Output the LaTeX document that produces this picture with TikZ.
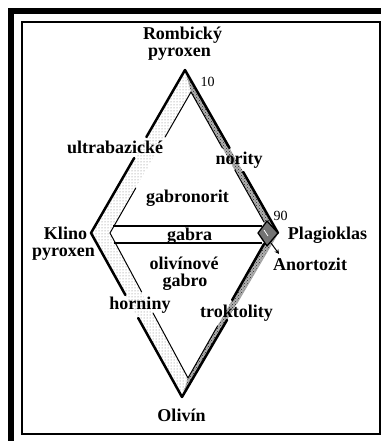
\documentclass[tikz,border=0pt]{standalone}
\usepackage{fontspec}
\setmainfont{Liberation Serif}
\usetikzlibrary{patterns,arrows.meta}
\begin{document}
\begin{tikzpicture}[x=1pt,y=-1pt,
  lbl/.style={font=\fontsize{18}{16}\selectfont\bfseries, inner sep=0pt, anchor=base},
  topline/.style={lbl, text depth=0pt},
  botline/.style={lbl, text height=8.5pt},
  num/.style={font=\fontsize{14}{14}\selectfont, inner sep=0pt, anchor=base},
  thickln/.style={line width=2.5pt, line cap=round, line join=round},
  thinln/.style={line width=1pt, line cap=round},
  grayln/.style={line width=1pt, draw=gray!70},
  lightband/.style={pattern=dots, pattern color=black!55},
  darkband/.style={fill=gray!60},
  darkdots/.style={pattern=crosshatch dots, pattern color=black!85},
  blob/.style={fill=black!55, draw=black, line width=1.3pt, line join=round},
  ptr/.style={-{Stealth[length=4.5pt,width=4.5pt]}, line width=1pt}]
\useasboundingbox (0,0) rectangle (381,441);
% frame
\fill (8,8) rectangle (381,14);
\fill (8,8) rectangle (14,441);
\draw[line width=2pt] (22,22) rectangle (380,434);
% diamond coordinates
\coordinate (A) at (185,70);
\coordinate (L) at (91,233);
\coordinate (B) at (182,397);
\coordinate (R) at (278,233);
\coordinate (Ai) at (191,92);
\coordinate (Li) at (110,233);
\coordinate (Bi) at (188,378);
\coordinate (Ru) at (264,222);
\coordinate (Rl) at (264,244);
% bands
\fill[lightband] (A) -- (L) -- (B) -- (Bi) -- (Li) -- (Ai) -- cycle;
\fill[darkband] (A) -- (R) -- (Ru) -- (Ai) -- cycle;
\fill[darkdots] (A) -- (R) -- (Ru) -- (Ai) -- cycle;
\fill[darkband] (R) -- (B) -- (Bi) -- (Rl) -- cycle;
\fill[darkdots] (R) -- (B) -- (Bi) -- (Rl) -- cycle;
% left outer edge with gaps
\coordinate (lo1) at (146.4,137);
\coordinate (lo2) at (134.2,158);
\coordinate (lo3) at (125.4,295);
\coordinate (lo4) at (138.2,318);
\draw[thickln] (A) -- (lo1);
\draw[thickln] (lo2) -- (L) -- (lo3);
\draw[thickln] (lo4) -- (B);
% left inner edge with gaps
\coordinate (li1) at (165.1,137);
\coordinate (li2) at (135.8,188);
\coordinate (li3) at (141.7,292);
\coordinate (li4) at (153,313);
\draw[thinln] (Ai) -- (li1);
\draw[thinln] (li2) -- (Li) -- (li3);
\draw[thinln] (li4) -- (Bi);
% right upper band edges
\coordinate (ro1) at (229.5,148);
\coordinate (ro2) at (243.2,172);
\coordinate (ri1) at (222.4,148);
\coordinate (ri2) at (234.8,170);
\draw[thickln] (A) -- (ro1);
\draw[thickln] (ro2) -- (R);
\draw[thinln] (Ai) -- (ri1);
\draw[thinln] (ri2) -- (Ru);
% right lower band edges
\coordinate (rl1) at (232.2,300);
\coordinate (rl2) at (217.5,326);
\coordinate (rb1) at (236.4,304);
\coordinate (rb2) at (227,320);
\draw[thickln] (Rl) -- (rl1);
\draw[thinln] (rl2) -- (Bi);
\draw[grayln] (R) -- (rb1);
\draw[thickln] (rb2) -- (B);
% gabra band
\coordinate (g1) at (113,226);
\coordinate (g2) at (262,226);
\coordinate (g3) at (114,243);
\coordinate (g4) at (262,243);
\draw[line width=2pt] (g1) -- (g2);
\draw[line width=2pt] (g3) -- (g4);
% plagioclase corner blob
\coordinate (p1) at (258,233);
\coordinate (p2) at (267,221);
\coordinate (p3) at (267,246);
\draw[blob] (p1) -- (p2) -- (R) -- (p3) -- cycle;
\coordinate (w1) at (264,230);
\coordinate (w2) at (268,236);
\draw[white, line width=0.8pt] (w1) -- (w2);
% arrow to Anortozit
\coordinate (as) at (271,243);
\coordinate (ae) at (279,254);
\draw[ptr] (as) -- (ae);
% labels
\node[topline] (t1) at (182.5,40) {Rombický};
\node[botline] (t2) at (179.5,57) {pyroxen};
\node[num] (n10) at (207.5,87) {10};
\node[num] (n90) at (280.5,220) {90};
\node[lbl] (ub) at (115,153) {ultrabazické};
\node[lbl] (nor) at (239,164) {nority};
\node[lbl] (gn) at (187.5,202) {gabronorit};
\node[lbl] (gb) at (189.5,240) {gabra};
\node[topline] (k1) at (65.5,239) {Klino};
\node[botline] (k2) at (63.5,256) {pyroxen};
\node[lbl] (pl) at (327.5,239) {Plagioklas};
\node[lbl] (an) at (310,270) {Anortozit};
\node[topline] (og1) at (184,269) {olivínové};
\node[botline] (og2) at (185,286) {gabro};
\node[lbl] (hor) at (140,309) {horniny};
\node[lbl] (tro) at (236.5,317) {troktolity};
\node[lbl] (ol) at (181.5,421) {Olivín};
\end{tikzpicture}
\end{document}
